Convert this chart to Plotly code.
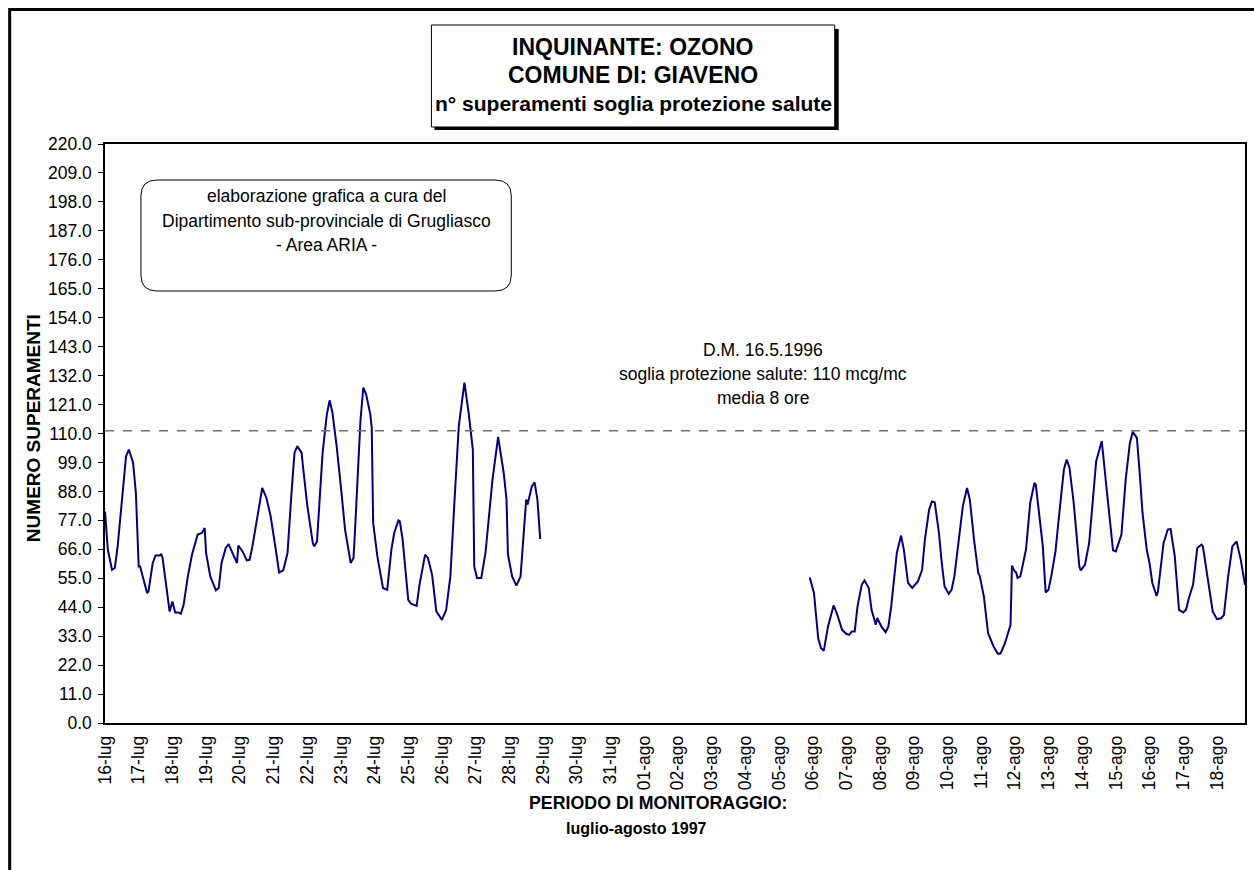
import plotly.graph_objects as go

# ---- data (hours since 16-lug 00:00, value) ----
hours_a = [0, 2, 5, 7, 9, 13, 15, 17, 20, 22, 24, 25, 27, 30, 31, 34, 36, 39, 40, 41, 44, 46, 48, 50, 52, 54,
           56, 59, 62, 66, 69, 71, 72, 75, 79, 81, 83, 86, 88, 91, 94, 95, 98, 101, 103, 105, 109, 112, 115,
           118, 122, 124, 127, 130, 133, 135, 137, 140, 141, 144, 148, 149, 151, 153, 155, 158, 160, 162, 165,
           168, 171, 175, 177, 178, 182, 184, 186, 189, 190, 191, 194, 198, 201, 204, 206, 209, 210, 212, 214,
           216, 218, 222, 224, 228, 230, 233, 236, 240, 243, 246, 249, 252, 256, 259, 262, 263, 265, 268, 271,
           276, 280, 284, 286, 287, 290, 293, 296, 298, 300, 301, 304, 306, 308, 310]
vals_a = [80.4, 65.9, 58.2, 58.9, 67.1, 88.7, 101.4, 103.9, 98.9, 87.4, 59.5, 59.5, 55.7, 49.4, 50.0, 60.8, 63.6,
          63.6, 64.3, 62.7, 50.6, 42.4, 46.2, 42.0, 42.0, 41.5, 44.9, 55.7, 64.0, 71.6, 72.2, 74.1, 64.6, 55.7,
          50.4, 51.3, 60.8, 66.5, 68.0, 64.6, 60.8, 67.4, 65.2, 61.8, 62.0, 67.1, 79.8, 89.3, 85.5, 78.5, 64.6,
          57.2, 58.0, 64.6, 88.7, 102.7, 105.2, 102.7, 97.6, 83.0, 68.4, 67.1, 69.0, 84.9, 102.7, 117.2, 122.6,
          117.9, 105.2, 89.9, 73.5, 60.8, 62.7, 72.2, 115.3, 127.4, 124.9, 117.2, 112.2, 76.0, 63.3, 51.3, 50.6,
          65.9, 72.2, 77.0, 76.6, 69.7, 59.5, 46.8, 45.3, 44.5, 52.5, 64.0, 62.7, 56.3, 42.4, 39.2, 43.0, 55.7,
          84.9, 112.8, 129.3, 117.9, 103.9, 59.5, 55.1, 55.1, 64.6, 92.5, 108.7, 95.0, 84.9, 64.0, 55.7, 52.2,
          55.7, 72.2, 84.9, 83.0, 89.9, 91.4, 84.9, 69.9]

hours_b = [502, 505, 508, 510, 512, 515, 519, 522, 525, 528, 530, 532, 534, 536, 539, 541, 544, 546, 549, 550,
           553, 556, 558, 560, 564, 566, 567, 569, 572, 575, 579, 582, 584, 587, 589, 591, 594, 596, 598, 601,
           603, 605, 608, 611, 614, 616, 619, 622, 623, 626, 629, 633, 636, 638, 641, 645, 646, 648, 649, 650,
           652, 656, 659, 662, 663, 666, 668, 670, 672, 674, 677, 680, 683, 685, 687, 690, 692, 694, 695, 698,
           701, 704, 706, 709, 710, 713, 716, 718, 720, 722, 724, 727, 730, 732, 735, 737, 739, 742, 744, 746,
           749, 750, 754, 757, 759, 762, 765, 768, 770, 772, 775, 778, 781, 782, 786, 789, 792, 795, 797, 800,
           803, 806, 809, 812]
vals_b = [55.3, 49.3, 32.2, 28.4, 27.5, 36.7, 44.7, 40.5, 35.4, 33.9, 33.5, 34.8, 34.8, 44.3, 52.5, 54.2, 51.3,
          43.0, 37.3, 39.9, 36.7, 34.5, 36.7, 44.3, 64.6, 69.3, 71.2, 65.9, 53.2, 51.3, 53.8, 58.2, 69.7, 81.1,
          84.2, 83.9, 72.2, 60.8, 51.9, 49.1, 50.6, 55.7, 69.7, 82.3, 89.3, 84.9, 69.7, 57.0, 56.0, 48.1, 34.1,
          29.0, 26.3, 26.5, 30.3, 37.3, 59.8, 57.6, 57.2, 55.1, 55.7, 65.9, 83.6, 91.2, 90.6, 77.3, 67.1, 49.6,
          50.6, 55.7, 65.2, 81.1, 96.3, 100.1, 96.9, 83.6, 72.2, 59.5, 58.0, 60.1, 68.4, 88.7, 99.5, 105.2,
          107.1, 91.2, 77.3, 65.6, 65.2, 68.4, 71.6, 92.5, 106.4, 110.6, 108.3, 95.0, 79.8, 65.9, 60.8, 53.2,
          48.3, 50.0, 68.4, 73.5, 73.7, 63.3, 43.0, 42.0, 43.0, 47.4, 52.5, 66.5, 67.8, 67.1, 53.8, 42.4, 39.5,
          39.8, 41.1, 55.7, 67.1, 69.0, 62.0, 52.5]

day_labels = ["16-lug", "17-lug", "18-lug", "19-lug", "20-lug", "21-lug", "22-lug", "23-lug", "24-lug",
              "25-lug", "26-lug", "27-lug", "28-lug", "29-lug", "30-lug", "31-lug", "01-ago", "02-ago",
              "03-ago", "04-ago", "05-ago", "06-ago", "07-ago", "08-ago", "09-ago", "10-ago", "11-ago",
              "12-ago", "13-ago", "14-ago", "15-ago", "16-ago", "17-ago", "18-ago"]
threshold = 111
y_ticks = [i * 11 for i in range(21)]

# ---- layout geometry ----
W, H = 1254, 870
L, R, T, B = 105, 7, 144, 147
PW, PH = W - L - R, H - T - B
FONT = "Liberation Sans, Arial, sans-serif"


def px(x):
    return (x - L) / PW


def py(y):
    return (H - B - y) / PH


x_all = hours_a + [None] + hours_b
y_all = vals_a + [None] + vals_b

fig = go.Figure()
fig.add_trace(go.Scatter(x=x_all, y=y_all, mode="lines", connectgaps=False,
                         line=dict(color="#000080", width=2), hoverinfo="skip", showlegend=False))

shapes = []
# outer frame (top and left)
shapes.append(dict(type="line", xref="paper", yref="paper", x0=px(9.5), x1=px(W + 5), y0=py(9.5), y1=py(9.5),
                   line=dict(color="black", width=3), layer="above"))
shapes.append(dict(type="line", xref="paper", yref="paper", x0=px(9.5), x1=px(9.5), y0=py(8), y1=py(H + 5),
                   line=dict(color="black", width=3), layer="above"))
# title box with shadow
shapes.append(dict(type="rect", xref="paper", yref="paper", x0=px(435), x1=px(840), y0=py(29), y1=py(130),
                   fillcolor="black", line=dict(width=0)))
shapes.append(dict(type="rect", xref="paper", yref="paper", x0=px(432), x1=px(836), y0=py(25), y1=py(127),
                   fillcolor="white", line=dict(color="black", width=1)))
# rounded box
x0, x1, y0, y1, r = 141, 512, 180, 291, 16
path = (f"M {px(x0 + r)},{py(y0)} L {px(x1 - r)},{py(y0)} "
        f"Q {px(x1)},{py(y0)} {px(x1)},{py(y0 + r)} L {px(x1)},{py(y1 - r)} "
        f"Q {px(x1)},{py(y1)} {px(x1 - r)},{py(y1)} L {px(x0 + r)},{py(y1)} "
        f"Q {px(x0)},{py(y1)} {px(x0)},{py(y1 - r)} L {px(x0)},{py(y0 + r)} "
        f"Q {px(x0)},{py(y0)} {px(x0 + r)},{py(y0)} Z")
shapes.append(dict(type="path", xref="paper", yref="paper", path=path,
                   line=dict(color="black", width=1), fillcolor="rgba(0,0,0,0)"))
# threshold dashed line
shapes.append(dict(type="line", xref="paper", yref="y", x0=0, x1=1, y0=threshold, y1=threshold,
                   line=dict(color="#707070", width=1.5, dash="dash")))

ann = []


def text(x, y, s, size=16, bold=False, angle=0):
    ann.append(dict(xref="paper", yref="paper", x=px(x), y=py(y), text=f"<b>{s}</b>" if bold else s,
                    showarrow=False, xanchor="center", yanchor="middle", textangle=angle,
                    font=dict(family=FONT, size=size, color="black")))


text(634, 47, "INQUINANTE: OZONO", 23, True)
text(634, 75, "COMUNE DI: GIAVENO", 23, True)
text(634, 103, "n° superamenti soglia protezione salute", 21, True)
text(327, 196, "elaborazione grafica a cura del", 17.5)
text(327, 221, "Dipartimento sub-provinciale di Grugliasco", 17.5)
text(327, 245, "- Area ARIA -", 17.5)
text(764, 350, "D.M. 16.5.1996", 17.5)
text(764, 374, "soglia protezione salute: 110 mcg/mc", 17.5)
text(764, 398, "media 8 ore", 17.5)
text(33, 428, "NUMERO SUPERAMENTI", 19, True, -90)
text(659, 803, "PERIODO DI MONITORAGGIO:", 17.8, True)
text(637, 828, "luglio-agosto 1997", 16, True)

fig.update_layout(
    width=W, height=H, margin=dict(l=L, r=R, t=T, b=B, pad=0),
    paper_bgcolor="white", plot_bgcolor="white",
    shapes=shapes, annotations=ann, showlegend=False,
    xaxis=dict(range=[0, 812], tickvals=[i * 24 for i in range(len(day_labels))], ticktext=day_labels,
               tickangle=-90, ticks="", ticklabelstandoff=4, showgrid=False, zeroline=False, showline=True,
               linecolor="black", linewidth=1.5, mirror=True,
               tickfont=dict(family=FONT, size=17.5, color="black")),
    yaxis=dict(range=[0, 220], tickvals=y_ticks, tickformat=".1f", ticks="outside", ticklen=5,
               ticklabelstandoff=3, tickcolor="black", showgrid=False, zeroline=False, showline=True,
               linecolor="black", linewidth=1.5, mirror=True,
               tickfont=dict(family=FONT, size=17.5, color="black")),
)

fig.write_html("out.html", config={"displayModeBar": False},
               post_script="document.body.style.margin='0';")
